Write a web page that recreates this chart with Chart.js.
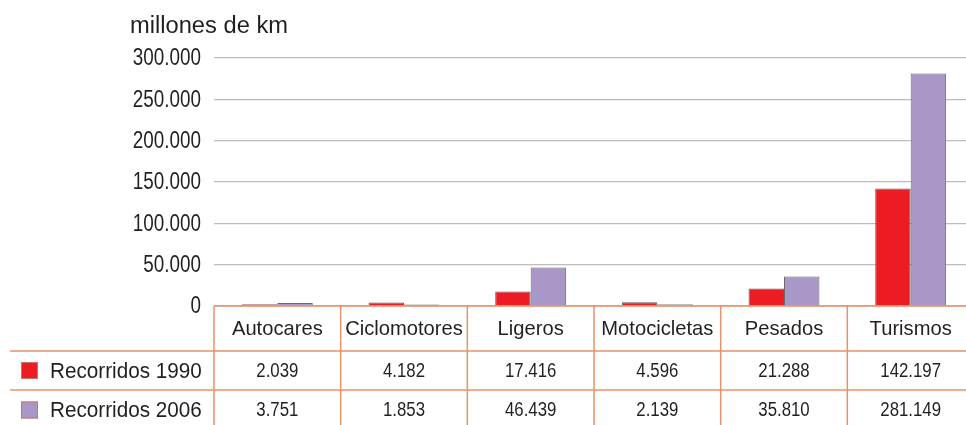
<!DOCTYPE html>
<html lang="es">
<head>
<meta charset="UTF-8">
<title>Recorridos 1990 / 2006</title>
<script src="https://cdn.jsdelivr.net/npm/chart.js"></script>
<style>
  html, body { margin: 0; padding: 0; background: #fff; overflow: hidden; }
  #wrap { position: relative; width: 975px; height: 425px; }
</style>
</head>
<body>
<div id="wrap"><canvas id="recorridos"></canvas></div>
<script>
// data (millones de km)
const categories = ['Autocares', 'Ciclomotores', 'Ligeros', 'Motocicletas', 'Pesados', 'Turismos'];
const seriesNames = ['Recorridos 1990', 'Recorridos 2006'];
const values1990 = [2039, 4182, 17416, 4596, 21288, 142197];
const values2006 = [3751, 1853, 46439, 2139, 35810, 281149];
const yTicks = [0, 50000, 100000, 150000, 200000, 250000, 300000];
const unitLabel = 'millones de km';

const RED = '#ED1C24';
const PURPLE = '#A997C8';
const ORANGE = '#E8926A';
const TEXT = '#231F20';
const FONT = '"Liberation Sans", Arial, sans-serif';

function fmt(n) {
    return String(n).replace(/\B(?=(\d{3})+(?!\d))/g, '.');
}

// the original uses a condensed face, so squeeze the text horizontally
function narrowText(ctx, text, x, y, size, align, sx) {
    ctx.save();
    ctx.translate(x, y);
    ctx.scale(sx, 1);
    ctx.font = size + 'px ' + FONT;
    ctx.textAlign = align;
    ctx.textBaseline = 'middle';
    ctx.fillText(text, 0, 0);
    ctx.restore();
}

// draws the y labels, the unit label and the data table under the bars
const tablePlugin = {
    id: 'dataTable',
    afterDraw(chart) {
        const ctx = chart.ctx;
        const xs = chart.scales.x;
        const ys = chart.scales.y;
        const area = chart.chartArea;
        const top = area.bottom;
        const rowA = 351, rowB = 390, bottom = 430;
        const half = (xs.getPixelForValue(1) - xs.getPixelForValue(0)) / 2;
        const rows = [values1990, values2006];
        const colors = [RED, PURPLE];

        ctx.save();
        ctx.fillStyle = TEXT;

        // y tick labels
        ys.ticks.forEach(t => {
            narrowText(ctx, fmt(t.value), area.left - 13, ys.getPixelForValue(t.value) + 1, 23, 'right', 0.82);
        });

        // unit label
        narrowText(ctx, unitLabel, 130, 27, 23, 'left', 1.03);

        // lines
        ctx.strokeStyle = ORANGE;
        ctx.lineWidth = 1.5;
        ctx.beginPath();
        ctx.moveTo(area.left, top); ctx.lineTo(chart.width, top);
        ctx.moveTo(10, rowA); ctx.lineTo(chart.width, rowA);
        ctx.moveTo(10, rowB); ctx.lineTo(chart.width, rowB);
        for (let i = 0; i <= categories.length; i++) {
            const x = xs.getPixelForValue(0) - half + i * 2 * half;
            ctx.moveTo(x, top); ctx.lineTo(x, bottom);
        }
        ctx.stroke();

        // header + values
        categories.forEach((c, i) => {
            const x = xs.getPixelForValue(i);
            narrowText(ctx, c, x, (top + rowA) / 2 + 1, 21, 'center', 0.96);
            narrowText(ctx, fmt(rows[0][i]), x, (rowA + rowB) / 2 + 1, 20, 'center', 0.84);
            narrowText(ctx, fmt(rows[1][i]), x, rowB + 20, 20, 'center', 0.84);
        });

        // row legends
        const ry = [(rowA + rowB) / 2, rowB + 20];
        seriesNames.forEach((s, k) => {
            ctx.fillStyle = colors[k];
            ctx.fillRect(21, ry[k] - 8.5, 17, 17);
            ctx.strokeStyle = '#C9775A';
            ctx.lineWidth = 1;
            ctx.strokeRect(21.5, ry[k] - 8, 16, 16);
            ctx.fillStyle = TEXT;
            narrowText(ctx, s, 50, ry[k] + 1, 22, 'left', 0.94);
        });
        ctx.restore();
    }
};

const ctx = document.getElementById('recorridos').getContext('2d');
new Chart(ctx, {
    type: 'bar',
    data: {
        labels: categories,
        datasets: [
            {
                label: seriesNames[0],
                data: values1990,
                backgroundColor: RED,
                borderColor: '#5f5f5f',
                borderWidth: 1
            },
            {
                label: seriesNames[1],
                data: values2006,
                backgroundColor: PURPLE,
                borderColor: '#6a6a6a',
                borderWidth: 1
            }
        ]
    },
    options: {
        responsive: true,
        maintainAspectRatio: false,
        animation: false,
        layout: { padding: { top: 58, bottom: 119, right: 1, left: 0 } },
        plugins: {
            legend: { display: false },
            tooltip: { enabled: false }
        },
        datasets: {
            bar: { categoryPercentage: 0.56, barPercentage: 1.0 }
        },
        scales: {
            x: { display: false },
            y: {
                z: 1,
                min: 0,
                max: 300000,
                afterFit(scale) { scale.width = 214; },
                afterBuildTicks(scale) { scale.ticks = yTicks.map(v => ({ value: v })); },
                border: { display: false },
                grid: { color: '#BDBDBD', lineWidth: 1.2, drawTicks: false },
                ticks: { display: false }
            }
        }
    },
    plugins: [tablePlugin]
});
</script>
</body>
</html>
